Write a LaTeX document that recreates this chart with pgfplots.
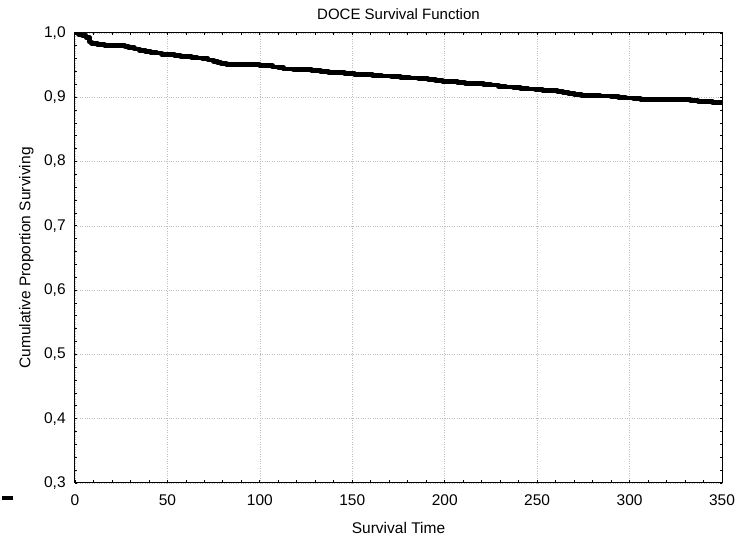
\documentclass[border=0pt]{standalone}
\usepackage{fontspec}
\setmainfont{Liberation Sans}
\usepackage{pgfplots}
\pgfplotsset{compat=1.18}
\begin{document}
\fontsize{15.5pt}{18pt}\selectfont
\begin{tikzpicture}
\begin{axis}[
  scale only axis,
  width=647pt, height=450pt,
  xmin=0, xmax=350, ymin=0.3, ymax=1.0,
  xtick={0,50,...,350},
  ytick={0.3,0.4,...,1.0},
  minor tick num=4,
  tick align=inside,
  major tick length=2.5pt,
  minor tick length=2.5pt,
  every tick/.style={black, line width=0.8pt},
  axis line style={line width=1pt},
  grid=major,
  major grid style={dotted, gray!50, line width=0.6pt},
  /pgf/number format/assume math mode=true,
  yticklabel style={/pgf/number format/.cd, fixed, fixed zerofill, precision=1, use comma},
  xticklabel style={/pgf/number format/.cd, fixed, precision=0},
  ticklabel style={font=\fontsize{15.5pt}{18pt}\selectfont},
  xticklabel shift=6pt,
  yticklabel shift=4pt,
  title={DOCE Survival Function},
  title style={font=\fontsize{15pt}{18pt}\selectfont, yshift=2pt},
  xlabel={Survival Time},
  ylabel={Cumulative Proportion Surviving},
  label style={font=\fontsize{15.5pt}{18pt}\selectfont},
  xlabel style={yshift=-6pt},
  ylabel style={yshift=0pt},
  legend style={at={(-0.116,-0.033)}, anchor=west, draw=none, fill=none, inner sep=0pt, nodes={inner sep=0pt}},
  legend image code/.code={\draw[line width=4.5pt, black] (0pt,0pt) -- (11pt,0pt);},
]
\addplot[const plot, line width=4.8pt, black, line join=round] coordinates {
(0,1.000) (2,0.998) (4,0.996) (6,0.993) (8,0.986) (9,0.984) (12,0.982) (16,0.981)
(24,0.980) (27,0.979) (29,0.977) (32,0.975) (35,0.973) (38,0.971) (41,0.970)
(44,0.969) (47,0.967) (51,0.966) (54,0.965) (57,0.964) (60,0.963) (63,0.962)
(66,0.961) (69,0.960) (72,0.958) (75,0.956) (77,0.954) (79,0.952) (82,0.951)
(100,0.950) (104,0.949) (107,0.947) (110,0.946) (113,0.944) (118,0.943) (128,0.942)
(133,0.940) (137,0.939) (141,0.938) (146,0.937) (151,0.936) (156,0.935) (161,0.934)
(166,0.933) (171,0.932) (176,0.931) (181,0.930) (186,0.929) (191,0.928) (195,0.926)
(199,0.925) (203,0.924) (207,0.923) (211,0.922) (216,0.921) (221,0.920) (225,0.919)
(229,0.917) (233,0.916) (237,0.915) (241,0.914) (245,0.913) (249,0.912) (253,0.911)
(257,0.910) (261,0.909) (264,0.907) (267,0.906) (270,0.904) (274,0.903) (284,0.902)
(290,0.901) (294,0.900) (298,0.899) (302,0.898) (306,0.897) (328,0.896) (333,0.895)
(337,0.894) (341,0.893) (345,0.892) (350,0.891)
};
\addlegendentry{}
\end{axis}
\pgfresetboundingbox
\path (current axis.south west) ++(-75pt,-54pt) rectangle ++(747pt,537pt);
\end{tikzpicture}
\end{document}
